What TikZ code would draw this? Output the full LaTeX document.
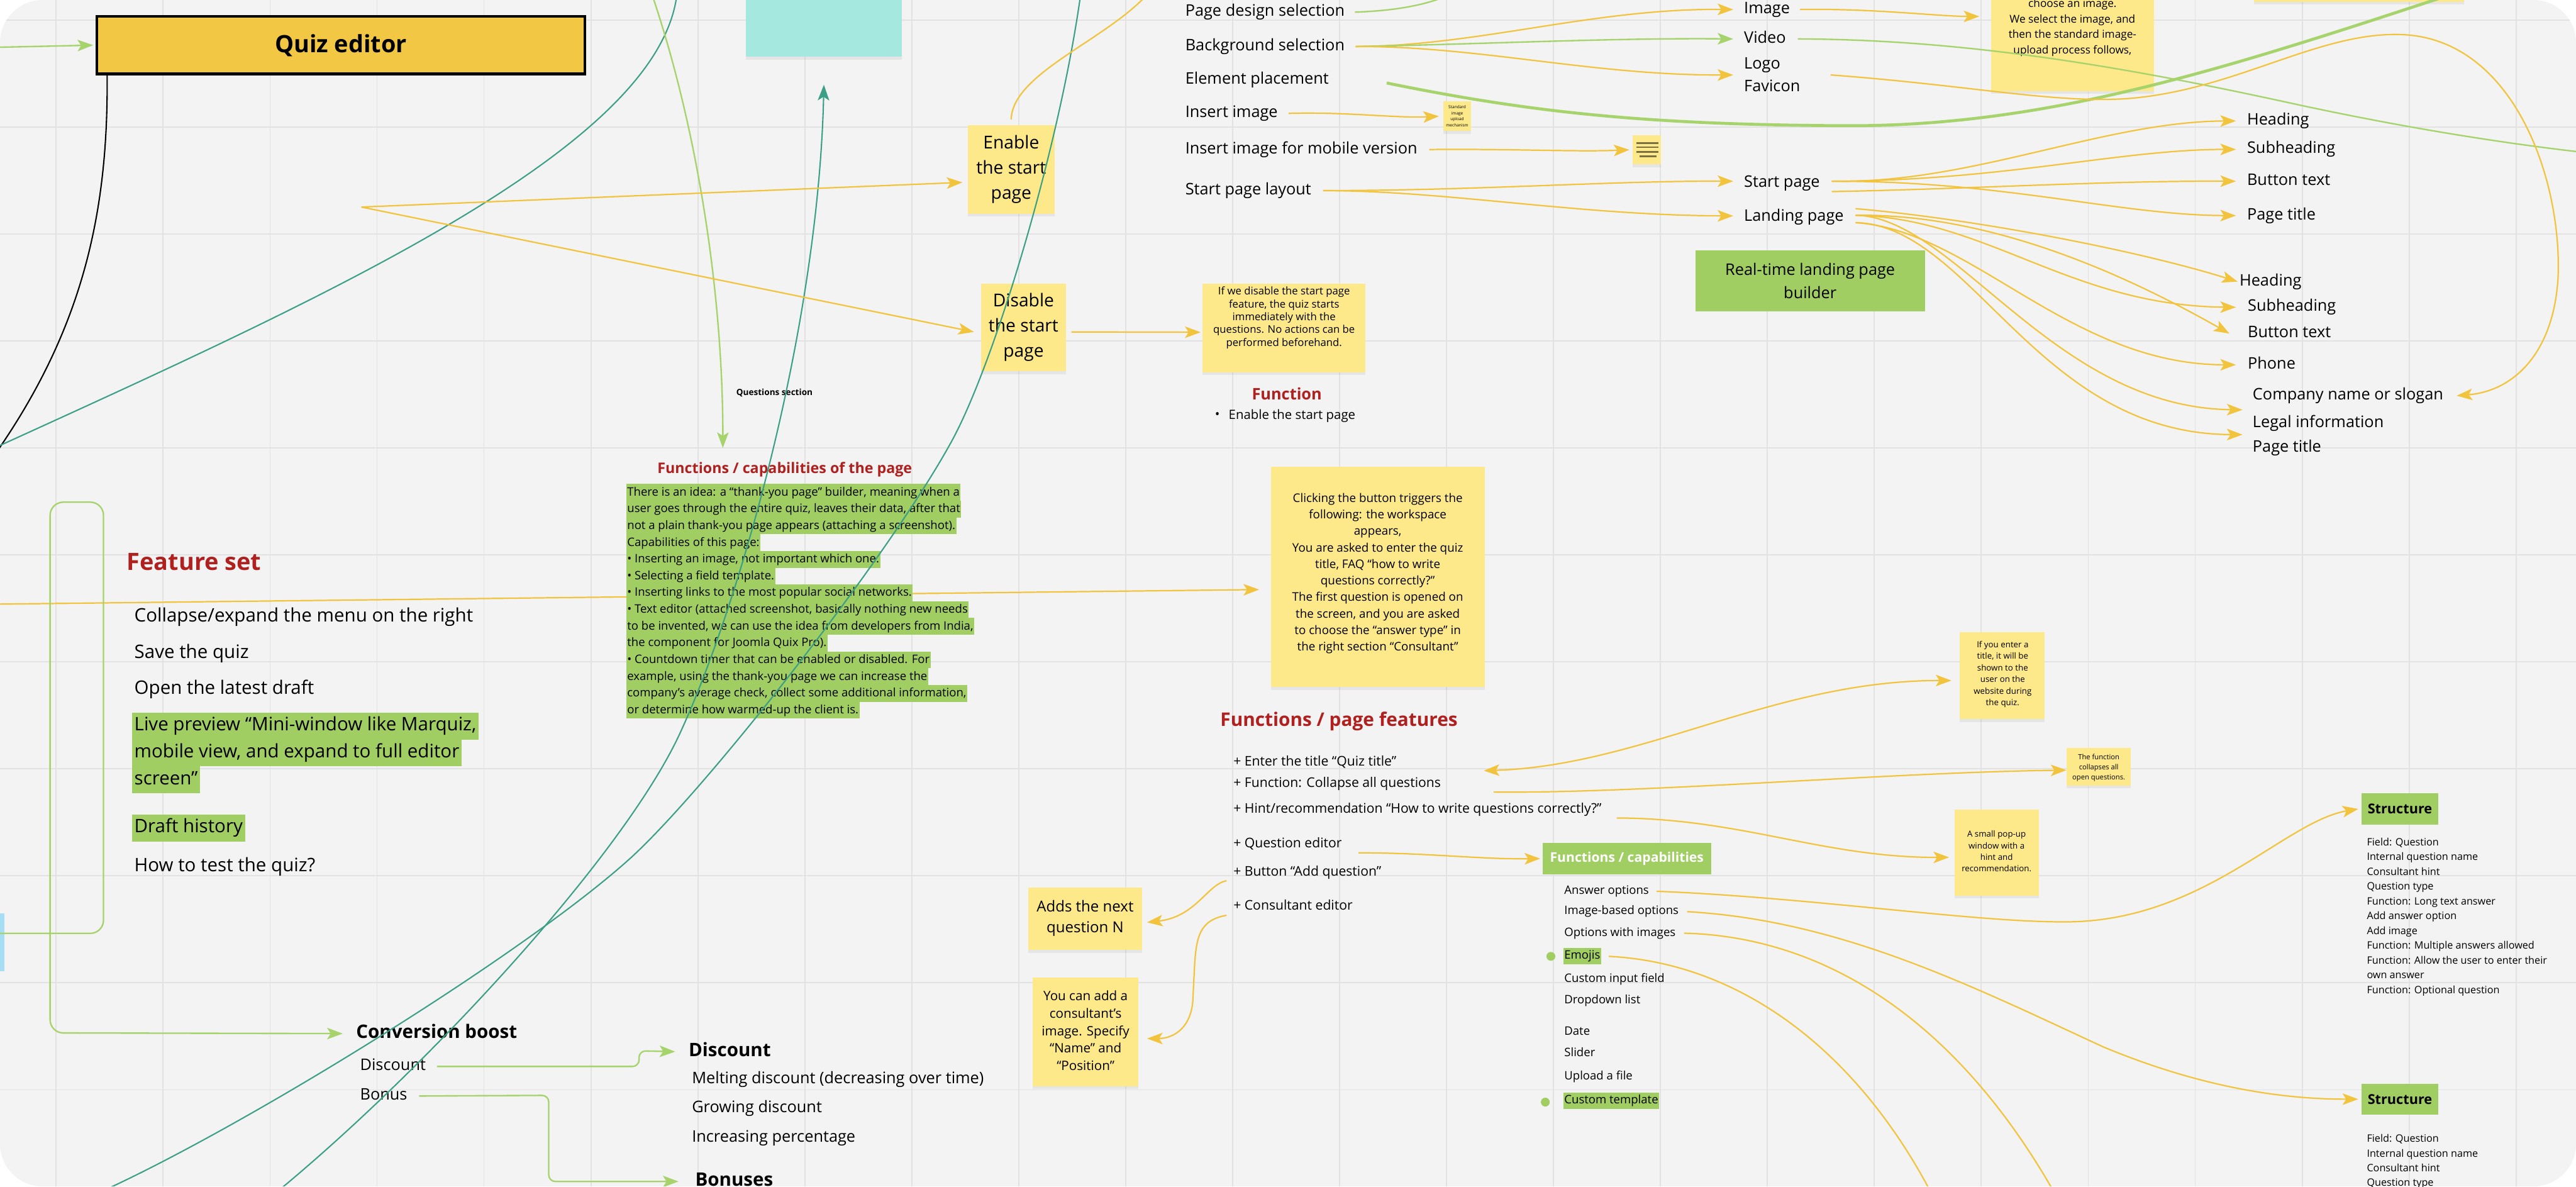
\documentclass[tikz,border=0pt]{standalone}
\usepackage{fontspec}
\setmainfont{Open Sans}
\usetikzlibrary{arrows.meta,shadows}
\newcommand\myfs[2]{\fontsize{#1}{#2}\selectfont}
\definecolor{board}{HTML}{F3F3F3}
\definecolor{gridc}{HTML}{E2E2E2}
\definecolor{yconn}{HTML}{F2C43E}
\definecolor{sticky}{HTML}{FDE88A}
\definecolor{gbox}{HTML}{A0CE63}
\definecolor{gconn}{HTML}{A6D36C}
\definecolor{tealc}{HTML}{3A9F85}
\definecolor{redt}{HTML}{B0201E}
\definecolor{cyann}{HTML}{A4E8DF}
\definecolor{quizc}{HTML}{F2C744}
\definecolor{lblue}{HTML}{A8DDF6}
\definecolor{olivec}{HTML}{7A7040}
\begin{document}
\begin{tikzpicture}[x=1pt,y=-1pt,
  arr/.style={-{Stealth[length=9.5pt,width=7pt,inset=2.2pt]}},
  arrb/.style={{Stealth[length=9.5pt,width=7pt,inset=2.2pt]}-{Stealth[length=9.5pt,width=7pt,inset=2.2pt]}},
  yc/.style={draw=yconn,line width=0.85pt},
  gc/.style={draw=gconn,line width=0.9pt},
  tc/.style={draw=tealc,line width=0.8pt},
  note/.style={fill=sticky,inner sep=0pt,drop shadow={opacity=0.12,shadow xshift=0pt,shadow yshift=-1.8pt}},
  gboxs/.style={fill=gbox,inner sep=0pt},
  lbl/.style={font=\myfs{9.7}{11},anchor=west,inner sep=0pt,text height=7pt,text depth=2.1pt},
  lst/.style={font=\myfs{8.1}{9.5},anchor=west,inner sep=0pt,text height=5.85pt,text depth=1.8pt},
  capl/.style={font=\myfs{7.1}{8.5},anchor=west,inner sep=0pt,text height=5.1pt,text depth=1.56pt},
  strl/.style={font=\myfs{6.2}{7.5},anchor=west,inner sep=0pt,text height=4.5pt,text depth=1.4pt},
  fea/.style={font=\myfs{11.3}{13},anchor=west,inner sep=0pt,text height=8.1pt,text depth=2.5pt},
  fhl/.style={fea,fill=gbox,inner xsep=1.5pt,inner ysep=2.85pt},
  gl/.style={font=\myfs{7.1}{8},anchor=west,fill=gbox,inner xsep=0.6pt,inner ysep=0pt,text height=7.2pt,text depth=3pt},
  redtitle/.style={anchor=west,inner sep=0pt,text=redt},
  boldlbl/.style={anchor=west,inner sep=0pt,font=\bfseries\myfs{11.3}{13},text height=8.1pt,text depth=2.5pt},
]
\useasboundingbox (0,0) rectangle (1568,722);
\fill[white] (0,0) rectangle (1568,722);
\begin{scope}
\clip[rounded corners=26pt] (0,0) rectangle (1568,722);
\fill[board] (0,0) rectangle (1568,722);
\foreach \i in {0,...,23} \draw[gridc,line width=0.7pt] ({34.2+65.1*\i},-2) -- ({34.2+65.1*\i},724);
\foreach \j in {0,...,10} \draw[gridc,line width=0.7pt] (-2,{12.2+65.1*\j}) -- (1570,{12.2+65.1*\j});

% ---------- notes and boxes ----------
\node[fill=cyann,inner sep=0pt,minimum width=95pt,minimum height=55pt,drop shadow={opacity=0.12,shadow xshift=0pt,shadow yshift=-1.8pt}] (cy) at (501.5,6.9) {};
\node[fill=quizc,draw=black,line width=1.6pt,minimum width=297pt,minimum height=35pt,font=\bfseries\myfs{14.5}{16}] (quiz) at (207.5,27.5) {Quiz editor};
\node[note,minimum width=53pt,minimum height=54pt] (en) at (615.5,103) {};
\node[note,minimum width=52pt,minimum height=53.4pt] (dis) at (623,199.3) {};
\node[note,minimum width=99pt,minimum height=54pt] (idn) at (781.5,199.5) {};
\node[note,minimum width=130.1pt,minimum height=134pt] (ckn) at (838.65,351) {};
\node[note,minimum width=99pt,minimum height=75pt] (chn) at (1261.5,17.9) {};
\node[note,minimum width=128pt,minimum height=20pt] (sliv) at (1436,-9) {};
\node[note,minimum width=17.1pt,minimum height=17.9pt] (tn) at (887,70.75) {};
\node[note,minimum width=17.4pt,minimum height=17.7pt] (mn) at (1002.3,91.15) {};
\node[note,minimum width=51.5pt,minimum height=52.9pt] (iyn) at (1218.75,411.15) {};
\node[note,minimum width=39pt,minimum height=23pt] (cln) at (1277.5,466.5) {};
\node[note,minimum width=51.4pt,minimum height=52.5pt] (pun) at (1215.3,518.75) {};
\node[note,minimum width=69pt,minimum height=38pt] (adn) at (660.5,559) {};
\node[note,minimum width=64.4pt,minimum height=66pt] (ycn) at (660.8,628) {};
\node[gboxs,minimum width=139.6pt,minimum height=37.3pt,align=center,font=\myfs{9.7}{14}] (rtb) at (1101.8,171) {Real-time landing page\\builder};
\node[gboxs,minimum width=102.5pt,minimum height=19pt,text=white,font=\bfseries\myfs{8.1}{9}] (fcb) at (990.25,522.5) {Functions / capabilities};
\node[gboxs,minimum width=46.4pt,minimum height=19.4pt,font=\bfseries\myfs{8.3}{9}] (s1) at (1460.8,492.3) {Structure};
\node[gboxs,minimum width=46.4pt,minimum height=18.8pt,font=\bfseries\myfs{8.3}{9}] (s2) at (1460.8,668.9) {Structure};
\fill[lblue] (-5,556) rectangle (2.6,591);

% yellow line that runs behind the green text block
\coordinate (lft1) at (-5,367.7);
\draw[yc,arr] (lft1) -- ([xshift=-7pt,yshift=-7.8pt]ckn.west);

% ---------- texts in notes ----------
\node[align=center,font=\myfs{10.8}{15.3}] at (615.5,103) {Enable\\the start\\page};
\node[align=center,font=\myfs{10.8}{15.3}] at (623,199.3) {Disable\\the start\\page};
\node[align=center,font=\myfs{6.4}{7.8}] at (781.6,193.4) {If we disable the start page\\feature, the quiz starts\\immediately with the\\questions. No actions can be\\performed beforehand.};
\node[align=center,font=\myfs{7.2}{10.05}] at (838.6,349) {Clicking the button triggers the\\following: the workspace\\appears,\\You are asked to enter the quiz\\title, FAQ “how to write\\questions correctly?”\\The first question is opened on\\the screen, and you are asked\\to choose the “answer type” in\\the right section “Consultant”};
\node[align=center,font=\myfs{6.6}{9.4}] at (1261.5,16.9) {choose an image.\\We select the image, and\\then the standard image-\\upload process follows,};
\node[align=center,font=\myfs{2.5}{3.7}] at (887,70.7) {Standard\\image\\upload\\mechanism};
\draw[olivec,line width=0.9pt] (996,87.1) -- (1009.5,87.1) (996,89.7) -- (1009.5,89.7) (996,92.4) -- (1009.5,92.4) (998,95.1) -- (1008.5,95.1);
\node[align=center,font=\myfs{5.1}{7.07}] at (1219,410.35) {If you enter a\\title, it will be\\shown to the\\user on the\\website during\\the quiz.};
\node[align=center,font=\myfs{4.3}{6.1}] at (1277.5,467.1) {The function\\collapses all\\open questions.};
\node[align=center,font=\myfs{5.1}{7}] at (1215.3,518.1) {A small pop-up\\window with a\\hint and\\recommendation.};
\node[align=center,font=\myfs{9.2}{12.7}] at (660.5,558.7) {Adds the next\\question N};
\node[align=center,font=\myfs{7.9}{10.6}] at (660.8,627.2) {You can add a\\consultant’s\\image. Specify\\“Name” and\\“Position”};

% ---------- top labels ----------
\node[lbl] (pds) at (721.3,7.4) {Page design selection};
\node[lbl] (bgs) at (721.3,28.3) {Background selection};
\node[lbl] (elp) at (721.3,48.8) {Element placement};
\node[lbl] (ins) at (721.3,69) {Insert image};
\node[lbl] (insm) at (721.3,91) {Insert image for mobile version};
\node[lbl] (spl) at (721.3,116) {Start page layout};
\node[lbl] (img) at (1061.4,5.8) {Image};
\node[lbl] (vid) at (1061.4,23.7) {Video};
\node[lbl] (logo) at (1061.4,39.6) {Logo};
\node[lbl] (fav) at (1061.4,53.3) {Favicon};
\node[lbl] (stp) at (1061.4,111.4) {Start page};
\node[lbl] (lp) at (1061.4,132) {Landing page};
\node[lbl] (h1) at (1367.6,73.6) {Heading};
\node[lbl] (sh1) at (1367.6,90.9) {Subheading};
\node[lbl] (bt1) at (1367.6,110.3) {Button text};
\node[lbl] (pt1) at (1367.6,131.2) {Page title};
\node[lbl] (h2) at (1363,171.4) {Heading};
\node[lbl] (sh2) at (1368,187) {Subheading};
\node[lbl] (bt2) at (1368,203) {Button text};
\node[lbl] (ph) at (1368,222) {Phone};
\node[lbl] (cn) at (1371,240.8) {Company name or slogan};
\node[lbl] (li) at (1371,257.7) {Legal information};
\node[lbl] (pt2) at (1371,272.6) {Page title};

% ---------- middle texts ----------
\node[font=\bfseries\myfs{9.7}{11},text=redt] (fn) at (783.3,239.7) {Function};
\node[font=\myfs{7.8}{9},inner sep=0pt] (bul) at (741,253) {•};
\node[anchor=west,inner sep=0pt,font=\myfs{7.8}{9}] (est) at (747.7,253) {Enable the start page};
\node[anchor=west,inner sep=0pt,font=\bfseries\myfs{5.2}{6}] (qs) at (448,239) {Questions section};
\node[redtitle,font=\bfseries\myfs{8.9}{10}] (fcpt) at (400,285.6) {Functions / capabilities of the page};
\node[gl] (g1) at (381,299.6) {There is an idea: a “thank-you page” builder, meaning when a};
\node[gl] (g2) at (381,309.8) {user goes through the entire quiz, leaves their data, after that};
\node[gl] (g3) at (381,320.0) {not a plain thank-you page appears (attaching a screenshot).};
\node[gl] (g4) at (381,330.2) {Capabilities of this page:};
\node[gl] (g5) at (381,340.4) {• Inserting an image, not important which one.};
\node[gl] (g6) at (381,350.6) {• Selecting a field template.};
\node[gl] (g7) at (381,360.8) {• Inserting links to the most popular social networks.};
\node[gl] (g8) at (381,371.0) {• Text editor (attached screenshot, basically nothing new needs};
\node[gl] (g9) at (381,381.2) {to be invented, we can use the idea from developers from India,};
\node[gl] (g10) at (381,391.4) {the component for Joomla Quix Pro).};
\node[gl] (g11) at (381,401.6) {• Countdown timer that can be enabled or disabled. For};
\node[gl] (g12) at (381,411.8) {example, using the thank-you page we can increase the};
\node[gl] (g13) at (381,422.0) {company’s average check, collect some additional information,};
\node[gl] (g14) at (381,432.2) {or determine how warmed-up the client is.};

\node[redtitle,font=\bfseries\myfs{11.4}{13}] (fpf) at (742.6,439) {Functions / page features};
\node[lst] (li1) at (750.6,464) {+ Enter the title “Quiz title”};
\node[lst] (li2) at (750.6,477) {+ Function: Collapse all questions};
\node[lst] (li3) at (750.6,492.8) {+ Hint/recommendation “How to write questions correctly?”};
\node[lst] (li4) at (750.6,514) {+ Question editor};
\node[lst] (li5) at (750.6,531) {+ Button “Add question”};
\node[lst] (li6) at (750.6,551.6) {+ Consultant editor};

\node[capl] (ans) at (952,542.4) {Answer options};
\node[capl] (ibo) at (952,554.8) {Image-based options};
\node[capl] (owi) at (952,567.9) {Options with images};
\node[capl,fill=gbox,inner xsep=0.5pt,inner ysep=1.6pt] (emo) at (951.5,582) {Emojis};
\node[capl] (cif) at (952,596) {Custom input field};
\node[capl] (ddl) at (952,609) {Dropdown list};
\node[capl] (dat) at (952,628) {Date};
\node[capl] (sld) at (952,641) {Slider};
\node[capl] (upl) at (952,655.4) {Upload a file};
\node[capl,fill=gbox,inner xsep=0.5pt,inner ysep=1.6pt] (ctp) at (951.5,670) {Custom template};
\fill[gbox] (944,582) circle[radius=2.7pt];
\fill[gbox] (940.6,670.7) circle[radius=2.7pt];

\node[strl] (a1) at (1440.5,513) {Field: Question};
\node[strl] (a2) at (1440.5,522) {Internal question name};
\node[strl] (a3) at (1440.5,531) {Consultant hint};
\node[strl] (a4) at (1440.5,540) {Question type};
\node[strl] (a5) at (1440.5,549) {Function: Long text answer};
\node[strl] (a6) at (1440.5,558) {Add answer option};
\node[strl] (a7) at (1440.5,567) {Add image};
\node[strl] (a8) at (1440.5,576) {Function: Multiple answers allowed};
\node[strl] (a9) at (1440.5,585) {Function: Allow the user to enter their};
\node[strl] (a10) at (1440.5,594) {own answer};
\node[strl] (a11) at (1440.5,603) {Function: Optional question};
\node[strl] (b1) at (1440.5,693.5) {Field: Question};
\node[strl] (b2) at (1440.5,702.5) {Internal question name};
\node[strl] (b3) at (1440.5,711.4) {Consultant hint};
\node[strl] (b4) at (1440.5,720.3) {Question type};

% ---------- feature set ----------
\node[redtitle,font=\bfseries\myfs{14.5}{16}] (fs) at (77,342) {Feature set};
\node[fea] (f1) at (81.6,375.6) {Collapse/expand the menu on the right};
\node[fea] (f2) at (81.6,397.8) {Save the quiz};
\node[fea] (f3) at (81.6,419.6) {Open the latest draft};
\node[fhl] (f4a) at (80.1,442) {Live preview “Mini-window like Marquiz,};
\node[fhl] (f4b) at (80.1,458.3) {mobile view, and expand to full editor};
\node[fhl] (f4c) at (80.1,474.6) {screen”};
\node[fhl] (f5) at (80.1,504) {Draft history};
\node[fea] (f6) at (81.6,527.6) {How to test the quiz?};

\node[boldlbl] (cb) at (216.6,629) {Conversion boost};
\node[lbl] (dsc) at (219,649) {Discount};
\node[lbl] (bon) at (219,667) {Bonus};
\node[boldlbl] (dh) at (419,640) {Discount};
\node[lbl] (m1) at (421,657) {Melting discount (decreasing over time)};
\node[lbl] (m2) at (421,674.5) {Growing discount};
\node[lbl] (m3) at (421,692.4) {Increasing percentage};
\node[boldlbl] (bh) at (423,719) {Bonuses};

% ---------- connectors ----------
\coordinate (qin) at (-3,28.8);
\draw[gc,arr] (qin) -- ([xshift=-1.5pt]quiz.west);
\coordinate (blk) at (-2,275);
\draw[black,line width=0.8pt] ([xshift=7pt]quiz.south west) .. controls (66,130) and (50,200) .. (blk);
\coordinate (t1s) at (-2,272);
\coordinate (t1e) at (412,-3);
\draw[tc] (t1s) .. controls (200,180) and (400,90) .. (t1e);
\coordinate (t2s) at (169,725);
\draw[tc,arr] (t2s) .. controls (260,650) and (380,520) .. (414,446) .. controls (450,368) and (498,200) .. ([yshift=-17pt]cy.south);
\coordinate (t3s) at (62,725);
\coordinate (t3e) at (658,-5);
\draw[tc] (t3s) .. controls (150,685) and (320,580) .. (384,522) .. controls (430,480) and (540,340) .. (579,269) .. controls (605,222) and (645,90) .. (t3e);
\coordinate (l1s) at (397,-3);
\draw[gc,arr] (l1s) .. controls (425,80) and (440,180) .. ([xshift=40pt,yshift=13pt]fcpt.west);

\coordinate (apex) at (220,126);
\draw[yc,arr] (apex) -- ([xshift=-3pt,yshift=-8pt]en.west);
\draw[yc,arr] (apex) -- ([xshift=-4pt,yshift=-2.7pt]dis.west);
\draw[yc,arr] ([xshift=3pt,yshift=-2.7pt]dis.east) -- ([xshift=-1pt,yshift=-2.7pt]idn.west);
\coordinate (enup) at (698,-3);
\draw[yc] ([yshift=3pt]en.north) .. controls (616,45) and (672,25) .. (enup);

\coordinate (pdsE) at (882,-3);
\draw[gc] ([xshift=6pt]pds.east) .. controls (850,6.5) and (868,3) .. (pdsE);
\draw[yc,arr] ([xshift=6.5pt]bgs.east) .. controls (900,28) and (970,5) .. ([xshift=-6.4pt]img.west);
\draw[gc,arr] ([xshift=6.5pt]bgs.east) .. controls (900,27) and (980,23) .. ([xshift=-6.4pt]vid.west);
\draw[yc,arr] ([xshift=6.5pt]bgs.east) .. controls (900,28) and (970,46) .. ([xshift=-6.4pt,yshift=-6pt]logo.west);
\coordinate (elpE) at (1500,-6);
\draw[gconn,line width=1.8pt] ([xshift=35pt,yshift=-1.7pt]elp.east) .. controls (930,68) and (1000,76) .. (1124,76.5) .. controls (1250,77) and (1360,40) .. (elpE);
\draw[yc,arr] ([xshift=6.4pt]ins.east) .. controls (820,68) and (850,72) .. ([xshift=-2.4pt]tn.west);
\draw[yc,arr] ([xshift=7pt]insm.east) .. controls (920,90.5) and (960,92.5) .. ([xshift=-1.6pt]mn.west);
\draw[yc,arr] ([xshift=7pt]spl.east) .. controls (900,116) and (980,110) .. ([xshift=-6.4pt,yshift=1.1pt]stp.west);
\draw[yc,arr] ([xshift=7pt]spl.east) .. controls (880,116) and (960,131) .. ([xshift=-6.4pt,yshift=0.6pt]lp.west);
\draw[yc,arr] ([xshift=6pt]img.east) .. controls (1140,5) and (1180,10) .. ([xshift=-7pt,yshift=7.9pt]chn.west);
\coordinate (vidE) at (1575,93);
\draw[gc] ([xshift=7pt]vid.east) .. controls (1200,24) and (1300,42) .. (1400,64) .. controls (1470,79) and (1530,88) .. (vidE);
\draw[yc,arr] ([xshift=30.4pt,yshift=-6pt]logo.east) .. controls (1200,52) and (1250,63) .. (1295,60) .. controls (1360,55) and (1410,20) .. (1460,21) .. controls (1530,22) and (1560,110) .. (1557,170) .. controls (1554,215) and (1530,238) .. ([xshift=8pt]cn.east);

\draw[yc,arr] ([xshift=7pt,yshift=1.1pt]stp.east) .. controls (1200,112) and (1280,74) .. ([xshift=-6.6pt]h1.west);
\draw[yc,arr] ([xshift=7pt,yshift=1.1pt]stp.east) .. controls (1220,110) and (1290,91) .. ([xshift=-6.6pt]sh1.west);
\draw[yc,arr] ([xshift=7pt,yshift=-5.2pt]stp.east) .. controls (1200,115) and (1280,110) .. ([xshift=-6.6pt]bt1.west);
\draw[yc,arr] ([xshift=7pt,yshift=1.1pt]stp.east) .. controls (1220,110) and (1290,131) .. ([xshift=-6.6pt]pt1.west);

\draw[yc,arr] ([xshift=7pt,yshift=5pt]lp.east) .. controls (1200,133) and (1300,152) .. ([xshift=-1pt]h2.west);
\draw[yc,arr] ([xshift=7pt,yshift=1pt]lp.east) .. controls (1210,133) and (1260,186) .. ([xshift=-7pt]sh2.west);
\draw[yc,arr] ([xshift=7pt,yshift=1pt]lp.east) .. controls (1210,130) and (1290,165) .. ([xshift=-11pt]bt2.west);
\draw[yc,arr] ([xshift=7pt,yshift=-3.5pt]lp.east) .. controls (1200,140) and (1260,222) .. ([xshift=-7pt]ph.west);
\draw[yc,arr] ([xshift=7pt,yshift=1pt]lp.east) .. controls (1190,132) and (1250,248) .. ([xshift=-6pt,yshift=8.3pt]li.west);
\draw[yc,arr] ([xshift=7pt,yshift=-3.5pt]lp.east) .. controls (1200,137) and (1240,264) .. ([xshift=-6pt,yshift=8.1pt]pt2.west);

\draw[yc,arrb] ([xshift=53pt,yshift=-5pt]li1.east) .. controls (1000,466) and (1080,414) .. ([xshift=-5pt,yshift=-3pt]iyn.west);
\draw[yc,arr] ([xshift=32pt,yshift=-5pt]li2.east) .. controls (1000,483) and (1150,470) .. ([yshift=-2.2pt]cln.west);
\draw[yc,arr] ([xshift=9pt,yshift=-5pt]li3.east) .. controls (1060,498) and (1110,522) .. ([xshift=-3pt,yshift=-3pt]pun.west);
\draw[yc,arr] ([xshift=10pt,yshift=-5pt]li4.east) .. controls (870,519) and (900,523) .. ([xshift=-1.3pt]fcb.west);
\draw[yc,arr] ([xshift=-4pt,yshift=-5pt]li5.west) .. controls (735,538) and (728,558) .. ([xshift=3pt,yshift=-2.3pt]adn.east);
\draw[yc,arr] ([xshift=-4pt,yshift=-5.4pt]li6.west) .. controls (730,560) and (728,570) .. (727,590) -- (726,610) .. controls (724,628) and (712,632) .. ([xshift=5pt,yshift=-4pt]ycn.east);

\draw[yc,arr] ([xshift=4.5pt]ans.east) .. controls (1100,546) and (1200,561) .. (1255,561) .. controls (1340,562) and (1390,500) .. ([xshift=-2pt]s1.west);
\draw[yc,arr] ([xshift=5pt]ibo.east) .. controls (1120,560) and (1200,600) .. (1280,637) .. controls (1340,662) and (1390,669) .. ([xshift=-2pt]s2.west);
\coordinate (owiE) at (1250,725);
\draw[yc] ([xshift=5pt]owi.east) .. controls (1110,570) and (1190,620) .. (owiE);
\coordinate (emoE) at (1175,725);
\draw[yc] ([xshift=4.5pt]emo.east) .. controls (1060,586) and (1130,640) .. (emoE);

\coordinate (gstart) at (-5,568);
\draw[gc,arr,rounded corners=8pt] (gstart) -- (63,568) -- (63,305.6) -- (30.5,305.6) -- (30.5,628.6) -- ([xshift=-8pt]cb.west);
\draw[gc,arr,rounded corners=4pt] ([xshift=6.6pt]dsc.east) -- (389,649) -- (389,639.5) -- ([xshift=-8pt]dh.west);
\draw[gc,arr,rounded corners=4pt] ([xshift=7pt]bon.east) -- (334,666.6) -- (334,719) -- ([xshift=-10pt]bh.west);
\end{scope}
\end{tikzpicture}
\end{document}
